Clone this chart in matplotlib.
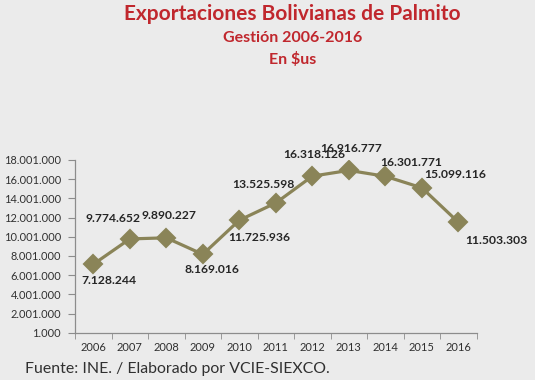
import matplotlib
matplotlib.use("Agg")
import matplotlib.pyplot as plt
import numpy as np

years = ["2006", "2007", "2008", "2009", "2010", "2011", "2012", "2013", "2014", "2015", "2016"]
values = [7128244, 9774652, 9890227, 8169016, 11725936, 13525598, 16318126, 16916777, 16301771, 15099116, 11503303]
value_labels = ["7.128.244", "9.774.652", "9.890.227", "8.169.016", "11.725.936", "13.525.598",
                "16.318.126", "16.916.777", "16.301.771", "15.099.116", "11.503.303"]
ytick_values = [1000 + 2000000 * k for k in range(10)]
ytick_labels = ["1.000", "2.001.000", "4.001.000", "6.001.000", "8.001.000", "10.001.000",
                "12.001.000", "14.001.000", "16.001.000", "18.001.000"]
label_offsets = [(16, -16.5), (-17, 20), (3, 22), (9, -15.5), (20, -17), (-12, 18.5),
                 (1.5, 22), (2, 22), (26, 14), (33, 13), (38, -18)]

bg = "#ebebeb"
olive = "#8a8458"
red = "#c0272d"

fig = plt.figure(figsize=(5.35, 3.8), dpi=100, facecolor=bg)
ax = fig.add_axes([75 / 535, 47.3 / 380, 401.7 / 535, 172.7 / 380], facecolor=bg)

x = np.arange(len(years))
ax.plot(x, values, color=olive, lw=2.3, marker="D", markersize=9, markerfacecolor=olive,
        markeredgecolor=olive, markeredgewidth=1.5, solid_joinstyle="round")

for xi, v, lab, off in zip(x, values, value_labels, label_offsets):
    ax.annotate(lab, (xi, v), xytext=off, textcoords="offset pixels", ha="center", va="center",
                fontsize=8.7, fontweight="bold", color="#262626", family="Lato")

ax.set_xlim(-0.5, len(years) - 0.5)
ax.set_ylim(ytick_values[0], ytick_values[-1])
ax.set_yticks(ytick_values)
ax.set_yticklabels(ytick_labels)
ax.set_xticks(x)
ax.set_xticklabels(years)
ax.set_xticks(np.arange(-0.5, len(years)), minor=True)
ax.tick_params(axis="x", which="major", length=0, pad=7, labelsize=8, labelcolor="#303030")
ax.tick_params(axis="x", which="minor", length=4, color="#8c8c8c", direction="out")
ax.tick_params(axis="y", length=5, color="#8c8c8c", pad=5, labelsize=7.9, labelcolor="#303030")
for t in ax.get_xticklabels() + ax.get_yticklabels():
    t.set_family("Lato")
for s in ["top", "right"]:
    ax.spines[s].set_visible(False)
for s in ["left", "bottom"]:
    ax.spines[s].set_color("#8c8c8c")
    ax.spines[s].set_linewidth(0.9)

fig.text(292 / 535, 1 - 14 / 380, "Exportaciones Bolivianas de Palmito", ha="center", va="center",
         fontsize=15, fontweight="bold", color=red, family="Lato")
fig.text(292.5 / 535, 1 - 38 / 380, "Gestión 2006-2016", ha="center", va="center",
         fontsize=11.5, fontweight="bold", color=red, family="Lato")
fig.text(292.5 / 535, 1 - 60 / 380, "En $us", ha="center", va="center",
         fontsize=11.5, fontweight="bold", color=red, family="Lato")
fig.text(25 / 535, 1 - 369 / 380, "Fuente: INE. / Elaborado por VCIE-SIEXCO.", ha="left", va="center",
         fontsize=11.4, color="#303030", family="Lato")

fig.savefig("out.png", dpi=100, facecolor=bg)
